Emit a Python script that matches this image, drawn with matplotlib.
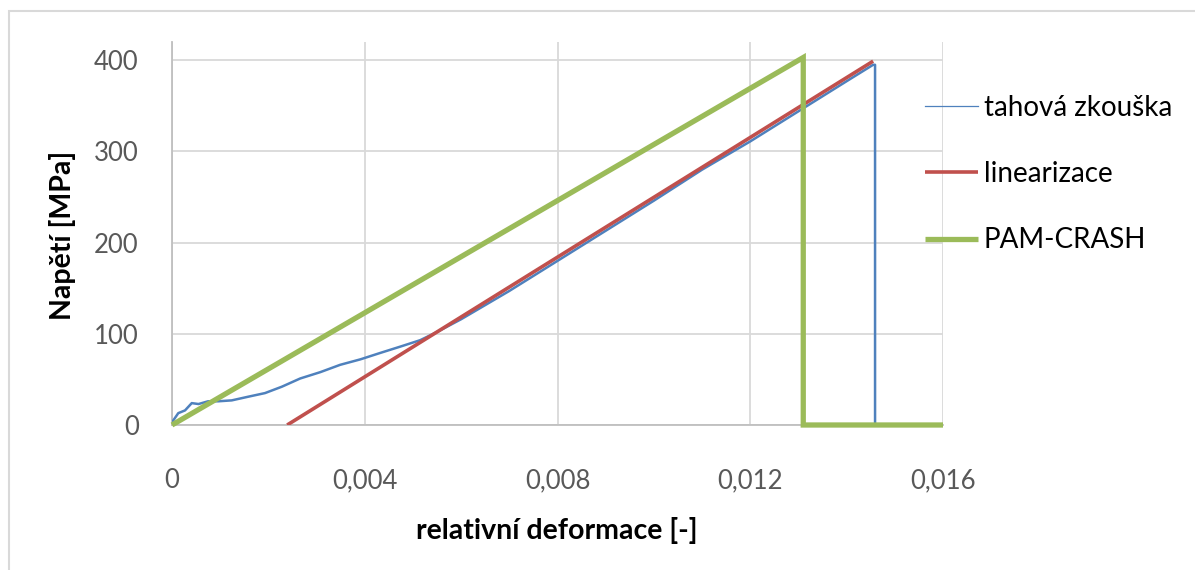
import matplotlib
matplotlib.use("Agg")
import matplotlib.pyplot as plt
from matplotlib.patches import Rectangle

# Tensile test measurement (strain [-], stress [MPa])
test_strain = [0.0, 0.00013, 0.00027, 0.00041, 0.00055, 0.00075, 0.00096, 0.00124,
               0.00158, 0.00193, 0.00228, 0.00266, 0.00308, 0.00349, 0.00391,
               0.00432, 0.00474, 0.00515, 0.0055, 0.0060, 0.0070, 0.0080, 0.0090,
               0.0100, 0.0110, 0.0120, 0.0130, 0.0140, 0.01455, 0.01459, 0.01459]
test_stress = [3, 13, 16, 24, 23, 26, 26, 27, 31, 35, 42, 51, 58, 66, 72, 79, 86,
               93, 102, 116, 147, 180, 213, 246, 280, 311, 344, 377, 395, 395, 0]

# Linear fit of the elastic part
lin_strain = [0.00239, 0.01455]
lin_stress = [0, 399]

# PAM-CRASH material model
pam_strain = [0.0, 0.0131, 0.0131, 0.016]
pam_stress = [0, 403, 0, 0]

x_ticks = [0.0, 0.004, 0.008, 0.012, 0.016]
x_tick_labels = ["0", "0,004", "0,008", "0,012", "0,016"]
y_ticks = [0, 100, 200, 300, 400]
y_tick_labels = ["0", "100", "200", "300", "400"]

plt.rcParams["font.family"] = ["Lato", "DejaVu Sans"]

fig = plt.figure(figsize=(11.95, 5.70), dpi=100)
fig.patches.append(Rectangle((9 / 1195, -0.1), 1.2, 1.1 - 11 / 570,
                             transform=fig.transFigure, fill=False,
                             edgecolor="#D9D9D9", linewidth=1.5))

ax = fig.add_axes([172 / 1195, 145 / 570, 771 / 1195, 383 / 570])

ax.plot(test_strain, test_stress, color="#4F81BD", linewidth=1.8,
        label="tahová zkouška", zorder=3)
ax.plot(lin_strain, lin_stress, color="#C0504D", linewidth=2.6,
        label="linearizace", zorder=4, solid_capstyle="butt")
ax.plot(pam_strain, pam_stress, color="#9BBB59", linewidth=3.8,
        label="PAM-CRASH", zorder=5, solid_joinstyle="miter",
        solid_capstyle="butt", clip_on=False)

ax.set_xlim(0, 0.016)
ax.set_ylim(0, 420)
ax.set_xticks(x_ticks)
ax.set_xticklabels(x_tick_labels)
ax.set_yticks(y_ticks)
ax.set_yticklabels(y_tick_labels)
ax.tick_params(length=0, labelsize=18.5, labelcolor="#595959")
ax.tick_params(axis="x", pad=31)
ax.tick_params(axis="y", pad=24)

ax.grid(True, color="#D9D9D9", linewidth=1.3)
ax.set_axisbelow(True)
for side in ("top", "right"):
    ax.spines[side].set_visible(False)
for side in ("left", "bottom"):
    ax.spines[side].set_color("#BFBFBF")
    ax.spines[side].set_linewidth(1.3)

# Axis titles placed in figure coordinates
fig.text(557 / 1195, 1 - 530 / 570, "relativní deformace [-]", fontsize=20.5,
         fontweight="bold", ha="center", va="center")
fig.text(63 / 1195, 1 - 235 / 570, "Napětí [MPa]", fontsize=20.5,
         fontweight="bold", ha="center", va="center", rotation=90)

leg = ax.legend(loc="center left", bbox_to_anchor=(0.977, 0.655),
                frameon=False, fontsize=20, handlelength=1.9,
                handletextpad=0.2, labelspacing=1.45, borderpad=0,
                borderaxespad=0)
leg.legend_handles[0].set_linewidth(0.9)

fig.savefig("out.png", dpi=100)
